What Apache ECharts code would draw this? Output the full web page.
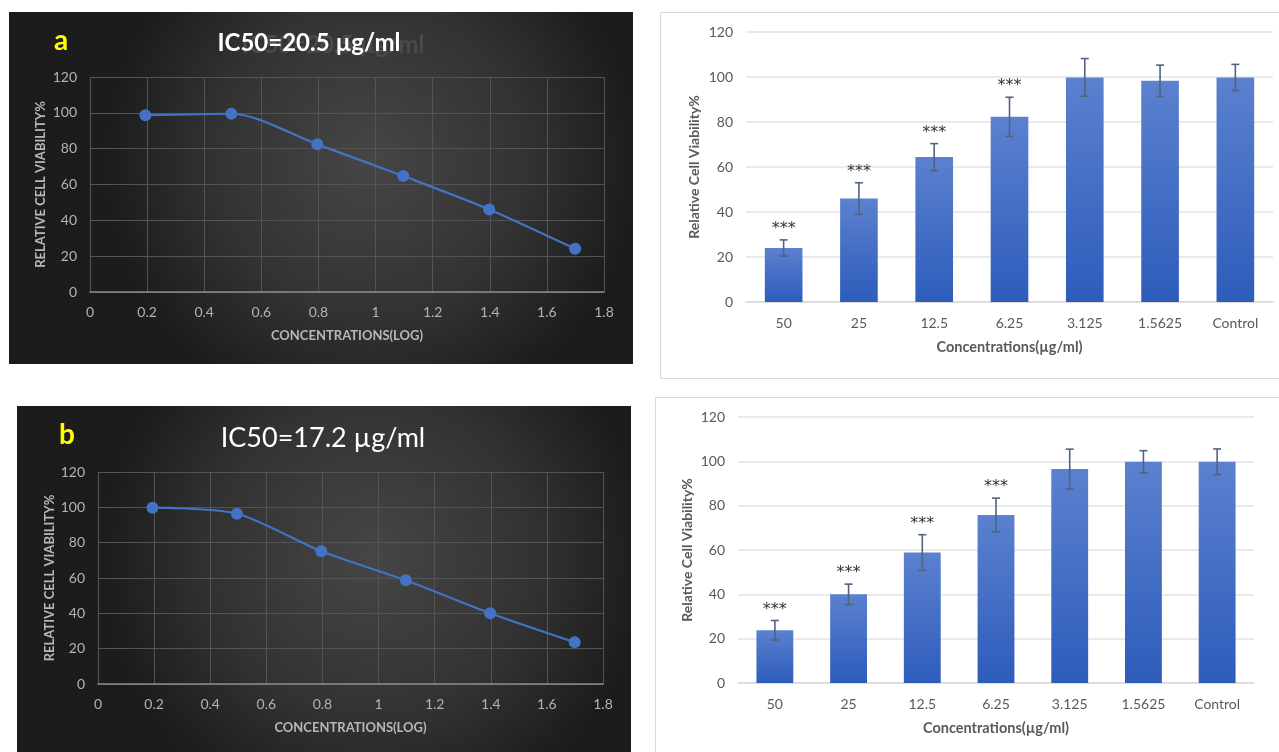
<!DOCTYPE html>
<html>
<head>
<meta charset="utf-8">
<script src="https://cdn.jsdelivr.net/npm/echarts@6/dist/echarts.min.js"></script>
<style>
html,body{margin:0;padding:0;background:#fff;}
#chart{width:1279px;height:752px;}
</style>
</head>
<body>
<div id="chart"></div>
<script>
// ---- data ----
const concLabels = ['50', '25', '12.5', '6.25', '3.125', '1.5625', 'Control'];
const viabilityA = [24, 46, 64.4, 82.3, 99.8, 98.3, 99.8];
const errA = [3.6, 7, 6, 8.7, 8.4, 7, 5.8];
const starsA = ['***', '***', '***', '***', '', '', ''];
const viabilityB = [23.8, 40, 58.9, 75.8, 96.5, 99.8, 99.8];
const errB = [4.4, 4.6, 8, 7.6, 9, 5, 5.8];
const starsB = ['***', '***', '***', '***', '', '', ''];
const logConc = [0.194, 0.495, 0.796, 1.097, 1.398, 1.699];
const lineA = [98.6, 99.5, 82.4, 64.7, 46.1, 24.1];
const lineB = [99.8, 96.4, 75.1, 58.7, 40.0, 23.6];
const titleA = 'IC50=20.5 µg/ml';
const titleB = 'IC50=17.2 µg/ml';

const FONT = 'Lato, "Liberation Sans", sans-serif';
const darkBg = {
  type: 'radial', x: 0.58, y: 0.42, r: 0.75,
  colorStops: [{offset: 0, color: '#464646'}, {offset: 0.6, color: '#323232'}, {offset: 1, color: '#1c1c1c'}]
};
const barGrad = {
  type: 'linear', x: 0, y: 0, x2: 0, y2: 1,
  colorStops: [{offset: 0, color: '#5b81cf'}, {offset: 1, color: '#2d5cbb'}]
};

function darkX(gi, name, gap) {
  return {
    gridIndex: gi, type: 'value', min: 0, max: 1.8, interval: 0.2,
    name: name, nameLocation: 'middle', nameGap: gap,
    nameTextStyle: {color: '#b8b8b8', fontWeight: 'bold', fontSize: 13, fontFamily: FONT},
    axisLine: {show: true, lineStyle: {color: '#8a8a8a', width: 1.5}},
    axisTick: {show: false},
    axisLabel: {color: '#b3b3b3', fontSize: 14, margin: 13, fontFamily: FONT},
    splitLine: {show: true, lineStyle: {color: '#545454', width: 1}}
  };
}
function darkY(gi, name, gap) {
  return {
    gridIndex: gi, type: 'value', min: 0, max: 120, interval: 20,
    name: name, nameLocation: 'middle', nameGap: gap,
    nameTextStyle: {color: '#b8b8b8', fontWeight: 'bold', fontSize: 13, fontFamily: FONT},
    axisLine: {show: false}, axisTick: {show: false},
    axisLabel: {color: '#b3b3b3', fontSize: 14, margin: 13, fontFamily: FONT},
    splitLine: {show: true, lineStyle: {color: '#545454', width: 1}}
  };
}
function lightX(gi, gap) {
  return {
    gridIndex: gi, type: 'category', data: concLabels,
    name: 'Concentrations(µg/ml)', nameLocation: 'middle', nameGap: gap,
    nameTextStyle: {color: '#595959', fontWeight: 'bold', fontSize: 14.5, fontFamily: FONT},
    axisLine: {show: true, lineStyle: {color: '#d9d9d9', width: 1.5}},
    axisTick: {show: false},
    axisLabel: {color: '#595959', fontSize: 14, margin: 14, fontFamily: FONT}
  };
}
function lightY(gi, gap) {
  return {
    gridIndex: gi, type: 'value', min: 0, max: 120, interval: 20,
    name: 'Relative Cell Viability%', nameLocation: 'middle', nameGap: gap,
    nameTextStyle: {color: '#595959', fontWeight: 'bold', fontSize: 14, fontFamily: FONT},
    axisLine: {show: false}, axisTick: {show: false},
    axisLabel: {color: '#595959', fontSize: 14, margin: 13, fontFamily: FONT},
    splitLine: {show: true, lineStyle: {color: '#e3e3e3', width: 1.5}}
  };
}
function errSeries(xi, vals, errs, stars) {
  return {
    type: 'custom', xAxisIndex: xi, yAxisIndex: xi, z: 5,
    data: vals.map((v, i) => [i, v, errs[i]]),
    renderItem: function (params, api) {
      const i = api.value(0), v = api.value(1), e = api.value(2);
      const top = api.coord([i, v + e]);
      const bot = api.coord([i, v - e]);
      const x = top[0], cap = 4;
      const st = {stroke: '#52637f', lineWidth: 1.6};
      const children = [
        {type: 'line', shape: {x1: x, y1: top[1], x2: x, y2: bot[1]}, style: st},
        {type: 'line', shape: {x1: x - cap, y1: top[1], x2: x + cap, y2: top[1]}, style: st},
        {type: 'line', shape: {x1: x - cap, y1: bot[1], x2: x + cap, y2: bot[1]}, style: st}
      ];
      const s = stars[params.dataIndex];
      if (s) {
        children.push({type: 'text', style: {text: s, x: x, y: top[1] - 3, textAlign: 'center', textVerticalAlign: 'bottom',
          fill: '#333333', font: '16px "DejaVu Sans", sans-serif'}});
      }
      return {type: 'group', children: children};
    }
  };
}
function lineSeries(xi, vals) {
  return {
    type: 'line', xAxisIndex: xi, yAxisIndex: xi, smooth: 0.28,
    data: logConc.map((x, i) => [x, vals[i]]),
    symbol: 'circle', symbolSize: 12,
    itemStyle: {color: '#4472c4'},
    lineStyle: {color: '#4472c4', width: 2.2}
  };
}

const chart = echarts.init(document.getElementById('chart'), null, {renderer: 'canvas'});
chart.setOption({
  animation: false,
  backgroundColor: '#ffffff',
  graphic: [
    {type: 'rect', z: -10, shape: {x: 9, y: 12, width: 624, height: 352}, style: {fill: darkBg}},
    {type: 'rect', z: -10, shape: {x: 17, y: 406, width: 614, height: 360}, style: {fill: darkBg}},
    {type: 'rect', z: -10, shape: {x: 660.5, y: 12.5, width: 630, height: 366}, style: {fill: '#ffffff', stroke: '#d9d9d9', lineWidth: 1}},
    {type: 'rect', z: -10, shape: {x: 655.5, y: 397.5, width: 630, height: 370}, style: {fill: '#ffffff', stroke: '#d9d9d9', lineWidth: 1}},
    {type: 'text', z: 10, style: {text: 'a', x: 61, y: 41, textAlign: 'center', textVerticalAlign: 'middle', fill: '#ffff00', font: 'bold 28px ' + FONT}},
    {type: 'text', z: 9, style: {text: titleA, x: 333, y: 45, textAlign: 'center', textVerticalAlign: 'middle', fill: '#4a4a4a', font: 'bold 24px ' + FONT}},
    {type: 'text', z: 10, style: {text: titleA, x: 309, y: 43, textAlign: 'center', textVerticalAlign: 'middle', fill: '#ffffff', font: 'bold 24px ' + FONT,
      shadowBlur: 3, shadowColor: 'rgba(0,0,0,0.8)', shadowOffsetX: 1, shadowOffsetY: 2}},
    {type: 'text', z: 10, style: {text: 'b', x: 67, y: 435, textAlign: 'center', textVerticalAlign: 'middle', fill: '#ffff00', font: 'bold 28px ' + FONT}},
    {type: 'text', z: 10, style: {text: titleB, x: 323, y: 438, textAlign: 'center', textVerticalAlign: 'middle', fill: '#ffffff', font: '27px ' + FONT,
      shadowBlur: 3, shadowColor: 'rgba(0,0,0,0.8)', shadowOffsetX: 1, shadowOffsetY: 2}}
  ],
  grid: [
    {left: 90, top: 77, width: 514, height: 215},
    {left: 98, top: 472, width: 505, height: 212},
    {left: 746, top: 32, width: 527, height: 270},
    {left: 738, top: 417, width: 516, height: 266}
  ],
  xAxis: [
    darkX(0, 'CONCENTRATIONS(LOG)', 37),
    darkX(1, 'CONCENTRATIONS(LOG)', 37),
    lightX(2, 38),
    lightX(3, 38)
  ],
  yAxis: [
    darkY(0, 'RELATIVE CELL VIABILITY%', 43),
    darkY(1, 'RELATIVE CELL VIABILITY%', 42),
    lightY(2, 45),
    lightY(3, 44)
  ],
  series: [
    lineSeries(0, lineA),
    lineSeries(1, lineB),
    {type: 'bar', xAxisIndex: 2, yAxisIndex: 2, data: viabilityA, barWidth: '50%', itemStyle: {color: barGrad}},
    {type: 'bar', xAxisIndex: 3, yAxisIndex: 3, data: viabilityB, barWidth: '50%', itemStyle: {color: barGrad}},
    errSeries(2, viabilityA, errA, starsA),
    errSeries(3, viabilityB, errB, starsB)
  ]
});
</script>
</body>
</html>
